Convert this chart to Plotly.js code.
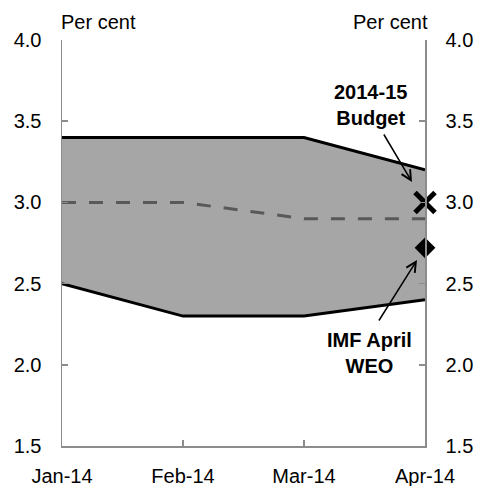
<!DOCTYPE html>
<html>
<head>
<meta charset="utf-8">
<script src="https://cdn.plot.ly/plotly-3.0.1.min.js"></script>
<style>
html, body { margin: 0; padding: 0; background: #fff; }
#chart { width: 478px; height: 486px; }
</style>
</head>
<body>
<div id="chart"></div>
<script>
var months = ['Jan-14', 'Feb-14', 'Mar-14', 'Apr-14'];
var upperRange = [3.4, 3.4, 3.4, 3.2];
var lowerRange = [2.5, 2.3, 2.3, 2.4];
var median = [3.0, 3.0, 2.9, 2.9];
var budgetMonth = ['Apr-14'];
var budgetValue = [3.0];
var imfMonth = ['Apr-14'];
var imfValue = [2.72];
var yTicks = [1.5, 2.0, 2.5, 3.0, 3.5, 4.0];

var FONT = 'Liberation Sans, Arial, sans-serif';
var AXC = '#8c8c8c';

var traces = [
  { x: months, y: lowerRange, type: 'scatter', mode: 'lines',
    line: { color: '#000', width: 3 }, hoverinfo: 'skip', showlegend: false },
  { x: months, y: upperRange, type: 'scatter', mode: 'lines', fill: 'tonexty',
    fillcolor: '#a6a6a6', line: { color: '#000', width: 3 }, hoverinfo: 'skip', showlegend: false },
  { x: months, y: median, type: 'scatter', mode: 'lines',
    line: { color: '#595959', width: 3, dash: '14px,13px' }, hoverinfo: 'skip', showlegend: false },
  { x: budgetMonth, y: budgetValue, type: 'scatter', mode: 'markers', yaxis: 'y2', cliponaxis: false,
    marker: { symbol: 'x-thin', size: 20, line: { color: '#000', width: 5 }, color: '#000' }, showlegend: false },
  { x: imfMonth, y: imfValue, type: 'scatter', mode: 'markers', yaxis: 'y2', cliponaxis: false,
    marker: { symbol: 'diamond', size: 16, color: '#000' }, showlegend: false }
];

var W = 478, H = 486, L = 62, R = 53, T = 40, B = 40;
var pw = W - L - R, ph = H - T - B;
function px(x) { return (x - L) / pw; }
function py(y) { return (H - B - y) / ph; }

var yaxisBase = {
  range: [1.5, 4.0], tickvals: yTicks, tickformat: '.1f',
  ticks: 'inside', ticklen: 6, tickwidth: 1.5, tickcolor: AXC,
  showline: true, linecolor: AXC, linewidth: 1.5,
  showgrid: false, zeroline: false, fixedrange: true,
  ticklabelstandoff: 15,
  tickfont: { family: FONT, size: 20, color: '#000' }
};

var layout = {
  width: W, height: H,
  margin: { l: L, r: R, t: T, b: B, pad: 0 },
  paper_bgcolor: '#fff', plot_bgcolor: '#fff',
  showlegend: false,
  xaxis: {
    type: 'category', range: [0, 3],
    ticks: 'inside', ticklen: 6, tickwidth: 1.5, tickcolor: AXC,
    showline: true, linecolor: AXC, linewidth: 1.5,
    showgrid: false, zeroline: false, fixedrange: true,
    ticklabelstandoff: 11,
    tickfont: { family: FONT, size: 20, color: '#000' }
  },
  yaxis: Object.assign({}, yaxisBase, { side: 'left' }),
  yaxis2: Object.assign({}, yaxisBase, { side: 'right', overlaying: 'y', anchor: 'x' }),
  annotations: [
    { xref: 'paper', yref: 'paper', x: px(59), y: py(22), xanchor: 'left', yanchor: 'middle',
      text: 'Per cent', showarrow: false, font: { family: FONT, size: 20, color: '#000' } },
    { xref: 'paper', yref: 'paper', x: px(430), y: py(22), xanchor: 'right', yanchor: 'middle',
      text: 'Per cent', showarrow: false, font: { family: FONT, size: 20, color: '#000' } },
    { xref: 'paper', yref: 'paper', x: px(370), y: py(105), xanchor: 'center', yanchor: 'middle',
      text: '<b>2014-15</b><br><b>Budget</b>', showarrow: false, align: 'center',
      font: { family: FONT, size: 20, color: '#000' } },
    { xref: 'paper', yref: 'paper', x: px(369), y: py(353), xanchor: 'center', yanchor: 'middle',
      text: '<b>IMF April</b><br><b>WEO</b>', showarrow: false, align: 'center',
      font: { family: FONT, size: 20, color: '#000' } },
    { xref: 'paper', yref: 'paper', x: px(412), y: py(182), text: '', showarrow: true,
      axref: 'pixel', ayref: 'pixel', ax: -29, ay: -49,
      arrowhead: 5, arrowsize: 1.3, arrowwidth: 1.5, arrowcolor: '#000', standoff: 0, startstandoff: 0 },
    { xref: 'paper', yref: 'paper', x: px(417), y: py(260), text: '', showarrow: true,
      axref: 'pixel', ayref: 'pixel', ax: -39, ay: 62,
      arrowhead: 5, arrowsize: 1.3, arrowwidth: 1.5, arrowcolor: '#000', standoff: 0, startstandoff: 0 }
  ]
};

Plotly.newPlot('chart', traces, layout, { displayModeBar: false, staticPlot: true });
</script>
</body>
</html>
